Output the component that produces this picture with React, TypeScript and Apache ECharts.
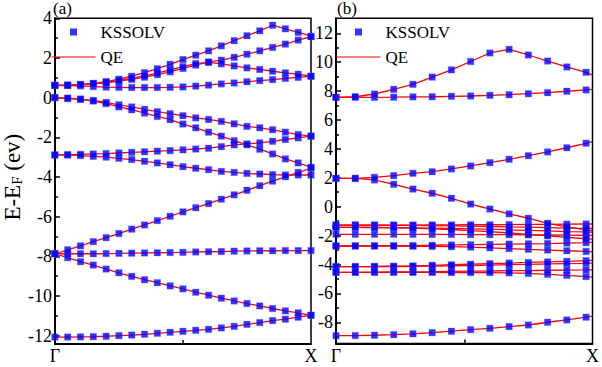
import React, { useEffect, useRef } from 'react';
import * as echarts from 'echarts';

const FONT = '"Liberation Serif", "Times New Roman", serif';

// k-path positions (Γ = 0, X = 1)
const kA = [0, 0.05, 0.1, 0.15, 0.2, 0.25, 0.3, 0.35, 0.4, 0.45, 0.5, 0.55, 0.6, 0.65, 0.7, 0.75, 0.8, 0.85, 0.9, 0.95, 1];
// panel (b): 14 KSSOLV points, QE line also reaches X (last entry)
const kB = [0, 0.075, 0.15, 0.225, 0.3, 0.375, 0.45, 0.525, 0.6, 0.675, 0.75, 0.825, 0.9, 0.975, 1];

// panel (a) bands (eV)
const a1 = [-12.07, -12.07, -12.06, -12.05, -12.03, -12.0, -11.97, -11.93, -11.88, -11.83, -11.78, -11.73, -11.68, -11.61, -11.53, -11.43, -11.34, -11.24, -11.17, -11.07, -10.97];
const a2 = [-7.87, -8.07, -8.27, -8.44, -8.64, -8.83, -9.01, -9.18, -9.33, -9.49, -9.64, -9.81, -9.96, -10.11, -10.25, -10.38, -10.5, -10.63, -10.75, -10.85, -10.97];
const a3 = [-7.87, -7.87, -7.87, -7.87, -7.86, -7.85, -7.84, -7.83, -7.82, -7.81, -7.8, -7.78, -7.77, -7.76, -7.74, -7.73, -7.72, -7.72, -7.71, -7.71, -7.71];
const a4 = [-7.87, -7.67, -7.47, -7.26, -7.06, -6.85, -6.63, -6.42, -6.2, -5.98, -5.76, -5.55, -5.34, -5.12, -4.9, -4.67, -4.44, -4.21, -3.99, -3.77, -3.56];
const a5 = [-2.89, -2.89, -2.92, -2.96, -3.0, -3.06, -3.12, -3.21, -3.29, -3.38, -3.48, -3.56, -3.63, -3.72, -3.77, -3.82, -3.85, -3.88, -3.9, -3.9, -3.9];
const a6 = [-2.89, -2.88, -2.86, -2.84, -2.82, -2.79, -2.76, -2.73, -2.7, -2.67, -2.63, -2.59, -2.55, -2.47, -2.38, -2.33, -2.28, -2.2, -2.11, -2.03, -1.94];
const a7 = [0, -0.05, -0.09, -0.14, -0.24, -0.36, -0.47, -0.59, -0.71, -0.81, -0.91, -1.02, -1.1, -1.2, -1.32, -1.45, -1.52, -1.62, -1.74, -1.86, -1.94];
const a8 = [0, -0.02, -0.07, -0.17, -0.3, -0.47, -0.61, -0.78, -0.95, -1.11, -1.33, -1.52, -1.74, -1.94, -2.17, -2.38, -2.6, -2.84, -3.09, -3.29, -3.51];
const a9 = [0.62, 0.61, 0.59, 0.56, 0.53, 0.52, 0.51, 0.51, 0.51, 0.52, 0.54, 0.58, 0.63, 0.69, 0.74, 0.8, 0.86, 0.91, 0.97, 1.02, 1.08];
const a10 = [0.62, 0.63, 0.66, 0.72, 0.81, 0.93, 1.08, 1.26, 1.46, 1.68, 1.92, 2.14, 2.36, 2.61, 2.87, 3.12, 3.37, 3.65, 3.47, 3.29, 3.1];
const a11 = [0.62, 0.63, 0.65, 0.69, 0.75, 0.83, 0.92, 1.03, 1.16, 1.3, 1.47, 1.64, 1.8, 1.89, 2.03, 2.19, 2.36, 2.53, 2.7, 2.9, 3.07];
const a12 = [0.62, 0.63, 0.66, 0.71, 0.78, 0.87, 0.98, 1.1, 1.24, 1.4, 1.56, 1.72, 1.78, 1.7, 1.6, 1.5, 1.42, 1.33, 1.25, 1.18, 1.08];
const bandsA = [a1, a2, a3, a4, a5, a6, a7, a8, a9, a10, a11, a12];

// panel (b) bands (eV); last value = QE at X
const b1 = [-8.93, -8.92, -8.9, -8.86, -8.8, -8.72, -8.62, -8.51, -8.42, -8.3, -8.19, -8.0, -7.84, -7.65, -7.58];
const b2 = [-4.15, -4.15, -4.14, -4.12, -4.1, -4.06, -4.02, -3.98, -3.94, -3.9, -3.86, -3.82, -3.78, -3.74, -3.72];
const b3 = [-4.15, -4.15, -4.15, -4.14, -4.13, -4.11, -4.09, -4.07, -4.04, -4.01, -3.99, -3.96, -3.94, -3.92, -3.91];
const b4 = [-4.54, -4.54, -4.53, -4.52, -4.51, -4.5, -4.48, -4.46, -4.45, -4.43, -4.42, -4.4, -4.39, -4.38, -4.37];
const b5 = [-4.54, -4.54, -4.54, -4.54, -4.55, -4.55, -4.56, -4.56, -4.56, -4.58, -4.62, -4.68, -4.75, -4.84, -4.87];
const b6 = [-2.72, -2.72, -2.71, -2.7, -2.69, -2.67, -2.65, -2.63, -2.61, -2.59, -2.57, -2.55, -2.52, -2.49, -2.47];
const b7 = [-2.72, -2.72, -2.72, -2.73, -2.74, -2.75, -2.77, -2.8, -2.85, -2.9, -2.95, -3.0, -3.05, -3.1, -3.12];
const b8 = [-1.91, -1.91, -1.91, -1.91, -1.91, -1.92, -1.92, -1.93, -1.93, -1.94, -1.95, -1.96, -1.97, -1.98, -1.98];
const b9 = [-1.27, -1.27, -1.27, -1.27, -1.27, -1.26, -1.26, -1.25, -1.25, -1.24, -1.23, -1.22, -1.21, -1.2, -1.2];
const b10 = [-1.27, -1.27, -1.28, -1.29, -1.3, -1.31, -1.33, -1.35, -1.37, -1.4, -1.42, -1.45, -1.48, -1.5, -1.51];
const b11 = [-1.43, -1.43, -1.44, -1.45, -1.46, -1.48, -1.5, -1.53, -1.56, -1.6, -1.64, -1.68, -1.72, -1.75, -1.76];
const b12 = [-1.43, -1.43, -1.44, -1.46, -1.49, -1.53, -1.58, -1.65, -1.73, -1.82, -1.92, -2.02, -2.12, -2.22, -2.25];
const b13 = [1.96, 1.96, 1.85, 1.55, 1.22, 0.93, 0.58, 0.18, -0.16, -0.5, -0.8, -1.15, -1.4, -1.6, -1.65];
const b14 = [1.96, 1.96, 2.03, 2.15, 2.31, 2.42, 2.61, 2.82, 3.05, 3.28, 3.53, 3.79, 4.08, 4.39, 4.5];
const b15 = [7.57, 7.57, 7.57, 7.58, 7.6, 7.61, 7.64, 7.66, 7.71, 7.75, 7.82, 7.89, 7.99, 8.08, 8.12];
const b16 = [7.57, 7.61, 7.8, 8.12, 8.47, 8.97, 9.47, 10.05, 10.64, 10.89, 10.5, 10.08, 9.67, 9.3, 9.11];
const bandsB = [b1, b2, b3, b4, b5, b6, b7, b8, b9, b10, b11, b12, b13, b14, b15, b16];
const nMarkersB = 14;

// axis ticks
const yTicksA = [-12, -10, -8, -6, -4, -2, 0, 2, 4];
const yMinorA = [-11, -9, -7, -5, -3, -1, 1, 3];
const yTicksB = [-8, -6, -4, -2, 0, 2, 4, 6, 8, 10, 12];
const yMinorB = [-9, -7, -5, -3, -1, 1, 3, 5, 7, 9, 11];
const xTicks = [0.5];
const xLabelVals = [0, 1];
const xLabelText = ['Γ', 'X'];

const KS_ICON = 'path://M0,0L0,0M44,14L44,14M18.5,3.5h7v7h-7z';
const QE_ICON = 'path://M0,0L0,0M44,14L44,14M0,6.4L44,6.4L44,7.6L0,7.6Z';

export default function App() {
  const ref = useRef<HTMLDivElement>(null);
  useEffect(() => {
    if (!ref.current) return;
    const chart = echarts.init(ref.current, null, { renderer: 'svg' });

    const lineStyle = { color: '#ff0000', width: 1.3 };
    const series: any[] = [];
    bandsA.forEach((b) => {
      series.push({
        type: 'line', name: 'QE', xAxisIndex: 0, yAxisIndex: 0,
        data: kA.map((k, i) => [k, b[i]]), symbol: 'none', showSymbol: false,
        lineStyle, itemStyle: { color: '#ff0000' }, z: 2, silent: true,
      });
    });
    bandsB.forEach((b) => {
      series.push({
        type: 'line', name: 'QE', xAxisIndex: 1, yAxisIndex: 2,
        data: kB.map((k, i) => [k, b[i]]), symbol: 'none', showSymbol: false,
        lineStyle, itemStyle: { color: '#ff0000' }, z: 2, silent: true,
      });
    });
    const scatterStyle = { color: '#0000ff', borderColor: 'rgba(90,90,255,0.35)', borderWidth: 1 };
    series.push({
      type: 'scatter', name: 'KSSOLV', xAxisIndex: 0, yAxisIndex: 0, symbol: 'rect', symbolSize: 6.5,
      itemStyle: scatterStyle, z: 3, silent: true,
      data: bandsA.flatMap((b) => kA.map((k, i) => [k, b[i]])),
    });
    series.push({
      type: 'scatter', name: 'KSSOLV', xAxisIndex: 1, yAxisIndex: 2, symbol: 'rect', symbolSize: 6.5,
      itemStyle: scatterStyle, z: 3, silent: true,
      data: bandsB.flatMap((b) => kB.slice(0, nMarkersB).map((k, i) => [k, b[i]])),
    });

    const labelStyle = { fontFamily: FONT, fontSize: 18, color: '#000' };
    const xAxis = (gi: number) => ({
      gridIndex: gi, type: 'value', min: 0, max: 1,
      axisLine: { onZero: false, lineStyle: { color: '#000', width: 2 } },
      axisTick: { inside: true, length: 4, customValues: xTicks, lineStyle: { color: '#000', width: 1.5 } },
      axisLabel: {
        ...labelStyle, margin: 3, customValues: xLabelVals,
        formatter: (v: number) => xLabelText[xLabelVals.indexOf(v)] ?? '',
      },
      splitLine: { show: false },
    });
    const yMajor = (gi: number, min: number, max: number, ticks: number[], extra: any) => ({
      gridIndex: gi, type: 'value', min, max, position: 'left',
      axisLine: { show: true, onZero: false, lineStyle: { color: '#000', width: 2 } },
      axisTick: { inside: true, length: 5, customValues: ticks, lineStyle: { color: '#000', width: 1.5 } },
      axisLabel: { ...labelStyle, margin: 3, customValues: ticks, formatter: (v: number) => String(v) },
      splitLine: { show: false },
      ...extra,
    });
    const yMinor = (gi: number, min: number, max: number, ticks: number[]) => ({
      gridIndex: gi, type: 'value', min, max, position: 'left', offset: 0,
      axisLine: { show: false, onZero: false },
      axisTick: { show: true, inside: true, length: 3, customValues: ticks, lineStyle: { color: '#000', width: 1.5 } },
      axisLabel: { show: false },
      splitLine: { show: false },
    });

    const legend = (left: number) => ({
      left, top: 23, orient: 'vertical', padding: 0,
      itemWidth: 44, itemHeight: 14, itemGap: 7, selectedMode: false,
      textStyle: { fontFamily: FONT, fontSize: 17, color: '#000', lineHeight: 18 },
      data: [
        { name: 'KSSOLV', icon: KS_ICON, itemStyle: { borderWidth: 0, color: '#0000ff' } },
        { name: 'QE', icon: QE_ICON, itemStyle: { borderWidth: 0, color: '#ff0000' } },
      ],
    });

    chart.setOption({
      animation: false,
      backgroundColor: '#fff',
      title: [
        { text: '(a)', left: 53, top: 0, padding: 0, textStyle: { fontFamily: FONT, fontSize: 17, fontWeight: 'normal', color: '#000', lineHeight: 17 } },
        { text: '(b)', left: 337, top: 0, padding: 0, textStyle: { fontFamily: FONT, fontSize: 17, fontWeight: 'normal', color: '#000', lineHeight: 17 } },
      ],
      legend: [legend(51.5), legend(336.5)],
      grid: [
        { left: 49, top: 18.3, width: 262, height: 325.7, show: true, borderColor: '#000', borderWidth: 1.5 },
        { left: 336, top: 18.3, width: 260.7, height: 325.2, show: true, borderColor: '#000', borderWidth: 1.5 },
      ],
      xAxis: [xAxis(0), xAxis(1)],
      yAxis: [
        yMajor(0, -12.42, 4, yTicksA, {
          name: 'E-E{sub|F} (ev)', nameLocation: 'middle', nameGap: 23, nameRotate: 90,
          nameTextStyle: {
            fontFamily: FONT, fontSize: 23, color: '#000', padding: [0, 0, 0, 8],
            rich: { sub: { fontFamily: FONT, fontSize: 15, color: '#000', verticalAlign: 'bottom' } },
          },
        }),
        yMinor(0, -12.42, 4, yMinorA),
        yMajor(1, -9.47, 13.04, yTicksB, {}),
        yMinor(1, -9.47, 13.04, yMinorB),
      ],
      series,
    });
    return () => chart.dispose();
  }, []);
  return <div ref={ref} style={{ position: 'absolute', left: 0, top: 0, width: 602, height: 367, background: '#fff' }} />;
}
